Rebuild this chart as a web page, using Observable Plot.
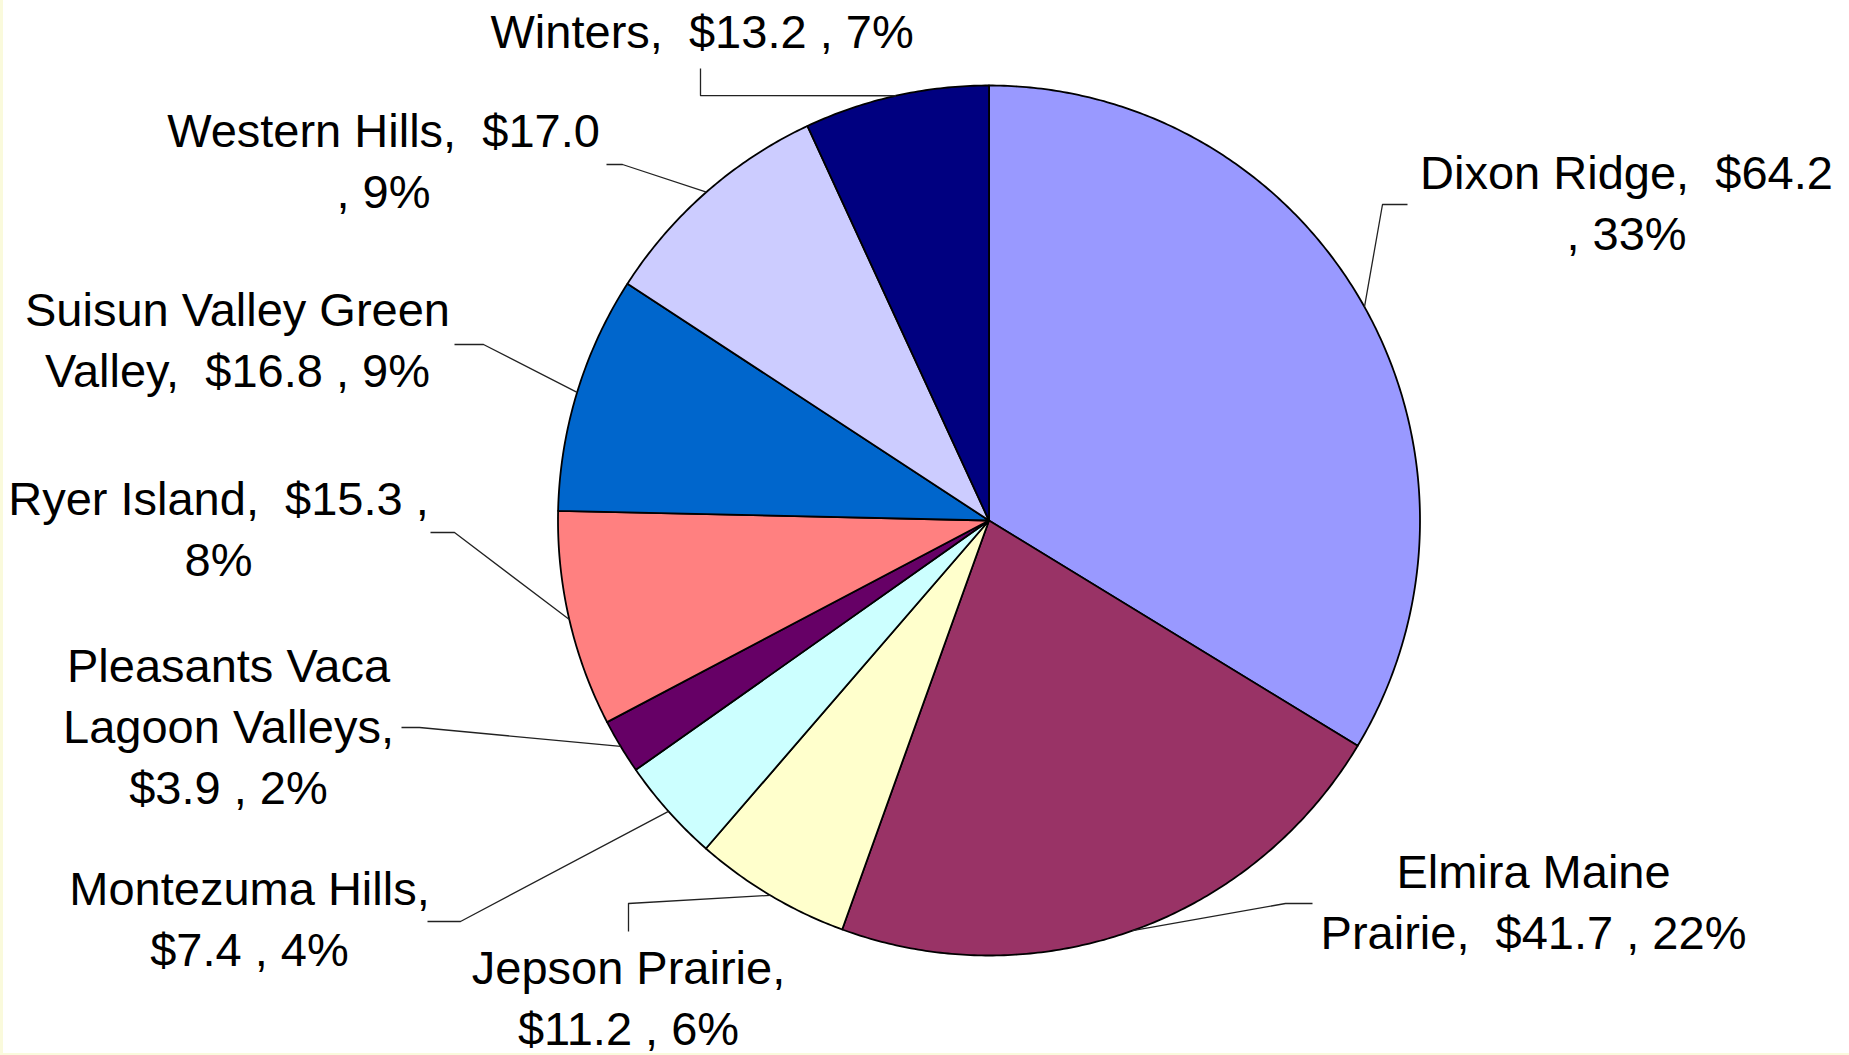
<!DOCTYPE html>
<html><head><meta charset="utf-8">
<script src="https://cdn.jsdelivr.net/npm/d3@7"></script>
<script src="https://cdn.jsdelivr.net/npm/@observablehq/plot@0.6"></script>
<style>
html,body{margin:0;padding:0;background:#fff;}
#frame{width:1846px;height:1053px;border-left:3px solid #FAFADC;border-bottom:2px solid #FAFADC;background:#fff;overflow:hidden}
#frame svg text{white-space:pre}
</style></head><body><div id="frame"></div>
<script>
// ---- data ----
const regions = ["Dixon Ridge", "Elmira Maine Prairie", "Jepson Prairie", "Montezuma Hills",
  "Pleasants Vaca Lagoon Valleys", "Ryer Island", "Suisun Valley Green Valley", "Western Hills", "Winters"];
const values = [64.2, 41.7, 11.2, 7.4, 3.9, 15.3, 16.8, 17.0, 13.2];
const percents = ["33%", "22%", "6%", "4%", "2%", "8%", "9%", "9%", "7%"];
const colors = ["#9999FF", "#993366", "#FFFFCC", "#CCFFFF", "#660066", "#FF8080", "#0066CC", "#CCCCFF", "#000080"];

// ---- layout (not data) ----
const W = 1846, H = 1053, CX = 985.5, CY = 520, RX = 431, RY = 435;
// label block centres (frame pixels)
const labelPx = [[1623, 199], [1530, 898.5], [625, 994.5], [246, 915.5],
  [225, 723], [215, 525.5], [234, 336.5], [380, 157.5], [698.6, 28]];
// token index where each new line starts
const labelBreaks = [[4], [2], [2], [2], [2, 4], [5], [3], [4], []];
// leader line points from label to elbow (frame pixels)
const leaderPx = [
  [[1404, 204], [1379, 204]],
  [[1309, 903], [1282, 903]],
  [[625, 931], [625, 903]],
  [[424, 921], [457, 921]],
  [[398, 727], [416, 727]],
  [[427, 532], [451, 532]],
  [[451, 344], [480, 344]],
  [[603, 164], [619, 164]],
  [[697, 68], [697, 95]]
];
const toU = ([px, py]) => [(px - CX) / RX, (CY - py) / RY];

const table = regions.map((name, i) => ({name, value: values[i], pct: percents[i]}));
const arcs = d3.pie().sort(null).value(d => d.value)(table);

const sliceRows = [];
arcs.forEach(a => {
  const n = Math.max(2, Math.ceil((a.endAngle - a.startAngle) / (Math.PI / 360)));
  sliceRows.push({name: a.data.name, x: 0, y: 0});
  for (let k = 0; k <= n; k++) {
    const t = a.startAngle + (a.endAngle - a.startAngle) * k / n;
    sliceRows.push({name: a.data.name, x: Math.sin(t), y: Math.cos(t)});
  }
  sliceRows.push({name: a.data.name, x: 0, y: 0});
});

const leaderRows = [];
arcs.forEach((a, i) => {
  const m = (a.startAngle + a.endAngle) / 2;
  leaderPx[i].forEach(p => { const [x, y] = toU(p); leaderRows.push({name: a.data.name, x, y}); });
  leaderRows.push({name: a.data.name, x: Math.sin(m), y: Math.cos(m)});
});

const labelRows = table.map((d, i) => {
  const tokens = `${d.name},  $${d.value.toFixed(1)} , ${d.pct}`.split(" ");
  const cuts = [0, ...labelBreaks[i], tokens.length];
  const lines = [];
  for (let k = 0; k < cuts.length - 1; k++) lines.push(tokens.slice(cuts[k], cuts[k + 1]).join(" ").trim());
  const [x, y] = toU(labelPx[i]);
  return {name: d.name, x, y, text: lines.join("\n")};
});

const chart = Plot.plot({
  width: W, height: H,
  marginTop: 0, marginRight: 0, marginBottom: 0, marginLeft: 0,
  x: {domain: [-1, 1], range: [CX - RX, CX + RX], axis: null},
  y: {domain: [-1, 1], range: [CY + RY, CY - RY], axis: null},
  color: {domain: regions, range: colors},
  style: {background: "#fff", fontFamily: "'Liberation Sans', Arial, sans-serif"},
  marks: [
    Plot.line(sliceRows, {x: "x", y: "y", z: "name", fill: "name", stroke: "#000", strokeWidth: 1.8, curve: "linear"}),
    Plot.line(leaderRows, {x: "x", y: "y", z: "name", stroke: "#222", strokeWidth: 1.3, curve: "linear", strokeLinecap: "butt"}),
    Plot.text(labelRows, {x: "x", y: "y", text: "text", fontSize: 47, lineHeight: 1.3,
      textAnchor: "middle", lineAnchor: "middle", fill: "#000"})
  ]
});
document.getElementById("frame").appendChild(chart);
</script></body></html>
